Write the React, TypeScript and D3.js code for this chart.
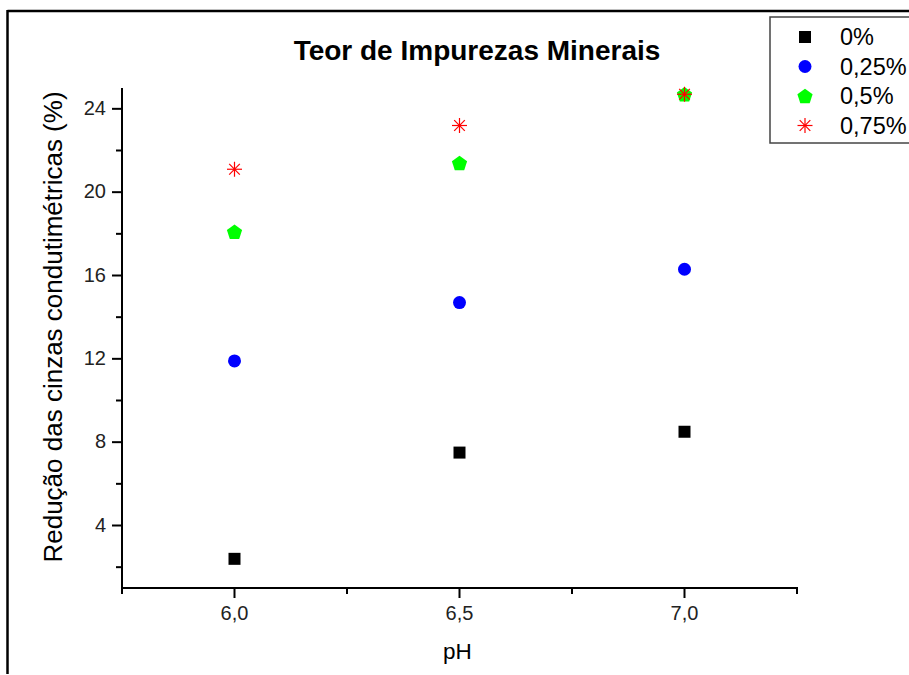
import React from 'react';
import * as d3 from 'd3';

const phValues = [6.0, 6.5, 7.0];
const seriesNames = ['0%', '0,25%', '0,5%', '0,75%'];
const serie0 = [2.4, 7.5, 8.5];
const serie025 = [11.9, 14.7, 16.3];
const serie05 = [18.1, 21.4, 24.7];
const serie075 = [21.1, 23.2, 24.7];
const seriesColors = ['#000000', '#0000ff', '#00ff00', '#ff0000'];
const seriesShapes = ['square', 'circle', 'pentagon', 'star'];
const yTicks = [4, 8, 12, 16, 20, 24];
const xTicks = [6.0, 6.5, 7.0];

const W = 909, H = 675;
const M = { left: 122, right: 797, top: 88, bottom: 588 };
const font = '"Liberation Sans", Arial, sans-serif';
const fmt = (v: number) => v.toFixed(1).replace('.', ',');

function Marker({ shape, x, y, color }: { shape: string, x: number, y: number, color: string }) {
    if (shape === 'square') {
        const p = d3.symbol().type(d3.symbolSquare).size(144)();
        return <path d={p || ''} transform={`translate(${x},${y})`} fill={color} />;
    }
    if (shape === 'circle') {
        return <circle cx={x} cy={y} r={6.5} fill={color} />;
    }
    if (shape === 'pentagon') {
        const r = 8;
        const pts = d3.range(5).map((i) => {
            const a = -Math.PI / 2 + i * 2 * Math.PI / 5;
            return [r * Math.cos(a), r * Math.sin(a) + 0.8] as [number, number];
        });
        const p = d3.line()(pts) + 'Z';
        return <path d={p} transform={`translate(${x},${y})`} fill={color} />;
    }
    // star / asterisk
    const r = 7.5;
    return (
        <g transform={`translate(${x},${y})`} stroke={color} strokeWidth={1.2}>
            {[0, 45, 90, 135].map((a) => {
                const rad = a * Math.PI / 180;
                return <line key={a} x1={-r * Math.cos(rad)} y1={-r * Math.sin(rad)} x2={r * Math.cos(rad)} y2={r * Math.sin(rad)} />;
            })}
        </g>
    );
}

export default function App() {
    const x = d3.scaleLinear().domain([5.75, 7.25]).range([M.left, M.right]);
    const y = d3.scaleLinear().domain([1, 25]).range([M.bottom, M.top]);
    const allSeries = [serie0, serie025, serie05, serie075];
    const xMinor = [5.75, 6.25, 6.75, 7.25];
    const yMinor = [2, 6, 10, 14, 18, 22];

    return (
        <svg width={W} height={H} style={{ position: 'absolute', left: 0, top: 0, background: '#fff' }} xmlns="http://www.w3.org/2000/svg">
            <rect x={0} y={0} width={W} height={H} fill="#fff" />
            {/* frame */}
            <line x1={7.5} y1={11} x2={W} y2={11} stroke="#000" strokeWidth={2.5} />
            <line x1={7.5} y1={10} x2={7.5} y2={674} stroke="#000" strokeWidth={2.5} />

            <text x={477} y={60} textAnchor="middle" fontFamily={font} fontWeight="bold" fontSize={28} fill="#000">Teor de Impurezas Minerais</text>

            {/* axes */}
            <line x1={M.left} y1={M.top} x2={M.left} y2={M.bottom + 1} stroke="#000" strokeWidth={2} />
            <line x1={M.left - 1} y1={M.bottom} x2={M.right + 1} y2={M.bottom} stroke="#000" strokeWidth={2} />
            {yTicks.map((v) => (
                <g key={`yt${v}`}>
                    <line x1={M.left - 10} x2={M.left} y1={y(v)} y2={y(v)} stroke="#000" strokeWidth={2} />
                    <text x={M.left - 16} y={y(v) + 6} textAnchor="end" fontFamily={font} fontSize={20} fill="#222">{v}</text>
                </g>
            ))}
            {yMinor.map((v) => (
                <line key={`ym${v}`} x1={M.left - 6} x2={M.left} y1={y(v)} y2={y(v)} stroke="#000" strokeWidth={2} />
            ))}
            {xTicks.map((v) => (
                <g key={`xt${v}`}>
                    <line x1={x(v)} x2={x(v)} y1={M.bottom} y2={M.bottom + 10} stroke="#000" strokeWidth={2} />
                    <text x={x(v)} y={M.bottom + 32} textAnchor="middle" fontFamily={font} fontSize={20} fill="#222">{fmt(v)}</text>
                </g>
            ))}
            {xMinor.map((v) => (
                <line key={`xm${v}`} x1={x(v)} x2={x(v)} y1={M.bottom} y2={M.bottom + 6} stroke="#000" strokeWidth={2} />
            ))}

            <text x={457.5} y={659} textAnchor="middle" fontFamily={font} fontSize={22.5} fill="#000">pH</text>
            <text transform={`translate(62, ${(M.top + M.bottom) / 2 - 11}) rotate(-90)`} textAnchor="middle" fontFamily={font} fontSize={26} fill="#000">Redução das cinzas condutimétricas (%)</text>

            {/* points */}
            {allSeries.map((s, i) => (
                <g key={`s${i}`}>
                    {s.map((v, j) => (
                        <Marker key={j} shape={seriesShapes[i]} x={x(phValues[j])} y={y(v)} color={seriesColors[i]} />
                    ))}
                </g>
            ))}

            {/* legend */}
            <rect x={770} y={17} width={150} height={126} fill="#fff" stroke="#444" strokeWidth={1.5} />
            {seriesNames.map((n, i) => (
                <g key={n}>
                    <Marker shape={seriesShapes[i]} x={805} y={37 + i * 29.5} color={seriesColors[i]} />
                    <text x={840} y={37 + i * 29.5 + 8} fontFamily={font} fontSize={23.5} fill="#000">{n}</text>
                </g>
            ))}
        </svg>
    );
}
